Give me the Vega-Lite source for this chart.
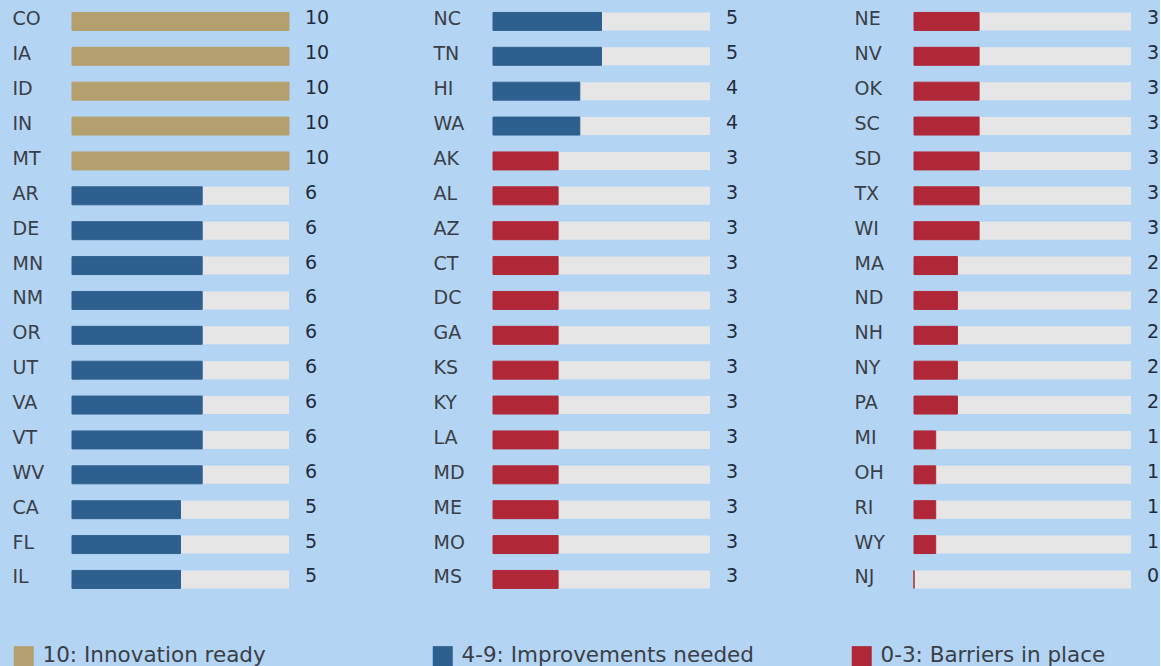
{
  "$schema": "https://vega.github.io/schema/vega-lite/v6.json",
  "background": "#b4d4f4",
  "padding": {"left": 12, "top": 4, "right": 0, "bottom": 0},
  "bounds": "flush",
  "spacing": 204,
  "config": {"view": {"stroke": null}, "font": "DejaVu Sans"},
  "datasets": {
    "states": [
      {"col": 1, "state": "CO", "score": 10, "tier": "10: Innovation ready"},
      {"col": 1, "state": "IA", "score": 10, "tier": "10: Innovation ready"},
      {"col": 1, "state": "ID", "score": 10, "tier": "10: Innovation ready"},
      {"col": 1, "state": "IN", "score": 10, "tier": "10: Innovation ready"},
      {"col": 1, "state": "MT", "score": 10, "tier": "10: Innovation ready"},
      {"col": 1, "state": "AR", "score": 6, "tier": "4-9: Improvements needed"},
      {"col": 1, "state": "DE", "score": 6, "tier": "4-9: Improvements needed"},
      {"col": 1, "state": "MN", "score": 6, "tier": "4-9: Improvements needed"},
      {"col": 1, "state": "NM", "score": 6, "tier": "4-9: Improvements needed"},
      {"col": 1, "state": "OR", "score": 6, "tier": "4-9: Improvements needed"},
      {"col": 1, "state": "UT", "score": 6, "tier": "4-9: Improvements needed"},
      {"col": 1, "state": "VA", "score": 6, "tier": "4-9: Improvements needed"},
      {"col": 1, "state": "VT", "score": 6, "tier": "4-9: Improvements needed"},
      {"col": 1, "state": "WV", "score": 6, "tier": "4-9: Improvements needed"},
      {"col": 1, "state": "CA", "score": 5, "tier": "4-9: Improvements needed"},
      {"col": 1, "state": "FL", "score": 5, "tier": "4-9: Improvements needed"},
      {"col": 1, "state": "IL", "score": 5, "tier": "4-9: Improvements needed"},
      {"col": 2, "state": "NC", "score": 5, "tier": "4-9: Improvements needed"},
      {"col": 2, "state": "TN", "score": 5, "tier": "4-9: Improvements needed"},
      {"col": 2, "state": "HI", "score": 4, "tier": "4-9: Improvements needed"},
      {"col": 2, "state": "WA", "score": 4, "tier": "4-9: Improvements needed"},
      {"col": 2, "state": "AK", "score": 3, "tier": "0-3: Barriers in place"},
      {"col": 2, "state": "AL", "score": 3, "tier": "0-3: Barriers in place"},
      {"col": 2, "state": "AZ", "score": 3, "tier": "0-3: Barriers in place"},
      {"col": 2, "state": "CT", "score": 3, "tier": "0-3: Barriers in place"},
      {"col": 2, "state": "DC", "score": 3, "tier": "0-3: Barriers in place"},
      {"col": 2, "state": "GA", "score": 3, "tier": "0-3: Barriers in place"},
      {"col": 2, "state": "KS", "score": 3, "tier": "0-3: Barriers in place"},
      {"col": 2, "state": "KY", "score": 3, "tier": "0-3: Barriers in place"},
      {"col": 2, "state": "LA", "score": 3, "tier": "0-3: Barriers in place"},
      {"col": 2, "state": "MD", "score": 3, "tier": "0-3: Barriers in place"},
      {"col": 2, "state": "ME", "score": 3, "tier": "0-3: Barriers in place"},
      {"col": 2, "state": "MO", "score": 3, "tier": "0-3: Barriers in place"},
      {"col": 2, "state": "MS", "score": 3, "tier": "0-3: Barriers in place"},
      {"col": 3, "state": "NE", "score": 3, "tier": "0-3: Barriers in place"},
      {"col": 3, "state": "NV", "score": 3, "tier": "0-3: Barriers in place"},
      {"col": 3, "state": "OK", "score": 3, "tier": "0-3: Barriers in place"},
      {"col": 3, "state": "SC", "score": 3, "tier": "0-3: Barriers in place"},
      {"col": 3, "state": "SD", "score": 3, "tier": "0-3: Barriers in place"},
      {"col": 3, "state": "TX", "score": 3, "tier": "0-3: Barriers in place"},
      {"col": 3, "state": "WI", "score": 3, "tier": "0-3: Barriers in place"},
      {"col": 3, "state": "MA", "score": 2, "tier": "0-3: Barriers in place"},
      {"col": 3, "state": "ND", "score": 2, "tier": "0-3: Barriers in place"},
      {"col": 3, "state": "NH", "score": 2, "tier": "0-3: Barriers in place"},
      {"col": 3, "state": "NY", "score": 2, "tier": "0-3: Barriers in place"},
      {"col": 3, "state": "PA", "score": 2, "tier": "0-3: Barriers in place"},
      {"col": 3, "state": "MI", "score": 1, "tier": "0-3: Barriers in place"},
      {"col": 3, "state": "OH", "score": 1, "tier": "0-3: Barriers in place"},
      {"col": 3, "state": "RI", "score": 1, "tier": "0-3: Barriers in place"},
      {"col": 3, "state": "WY", "score": 1, "tier": "0-3: Barriers in place"},
      {"col": 3, "state": "NJ", "score": 0, "tier": "0-3: Barriers in place"}
    ]
  },
  "resolve": {"scale": {"y": "independent", "color": "shared", "stroke": "shared"}},
  "hconcat": [
    {
      "data": {"name": "states"},
      "transform": [{"filter": "datum.col == 1"}],
      "width": 217,
      "height": {"step": 34.875},
      "encoding": {
        "y": {"field": "state", "type": "nominal", "sort": null,
          "scale": {"paddingInner": 0.484, "paddingOuter": 0.242},
          "axis": {"title": null, "domain": false, "ticks": false, "labelAlign": "left", "labelPadding": 60, "labelFontSize": 19, "labelColor": "#3a3f47", "labelBaseline": "middle", "labelOffset": -2}}
      },
      "layer": [
        {"mark": {"type": "bar", "color": "#e6e6e6"},
         "encoding": {"x": {"datum": 0, "type": "quantitative", "scale": {"domain": [0, 10]}, "axis": null}, "x2": {"datum": 10}}},
        {"mark": {"type": "bar", "strokeWidth": 1},
         "encoding": {
           "x": {"field": "score", "type": "quantitative", "scale": {"domain": [0, 10]}, "axis": null},
           "color": {"field": "tier", "type": "nominal",
             "scale": {"domain": ["10: Innovation ready", "4-9: Improvements needed", "0-3: Barriers in place"], "range": ["#b4a06e", "#2e608f", "#b02838"]},
             "legend": {"title": null, "orient": "none", "legendX": -59, "legendY": 641, "direction": "horizontal", "columns": 3, "gridAlign": "all", "columnPadding": 97, "symbolType": "square", "symbolSize": 400, "symbolStrokeWidth": 0, "labelFontSize": 21.5, "labelColor": "#3a3f47", "labelOffset": 8, "labelLimit": 500}},
           "stroke": {"field": "tier", "type": "nominal", "legend": null,
             "scale": {"domain": ["10: Innovation ready", "4-9: Improvements needed", "0-3: Barriers in place"], "range": ["#b4a06e", "#2e608f", "#b02838"]}}
         }},
        {"mark": {"type": "text", "align": "left", "baseline": "middle", "dx": 16, "dy": -3, "fontSize": 19, "color": "#1f2d3d"},
         "encoding": {"x": {"datum": 10, "type": "quantitative"}, "text": {"field": "score", "type": "quantitative"}}}
      ]
    },
    {
      "data": {"name": "states"},
      "transform": [{"filter": "datum.col == 2"}],
      "width": 217,
      "height": {"step": 34.875},
      "encoding": {
        "y": {"field": "state", "type": "nominal", "sort": null,
          "scale": {"paddingInner": 0.484, "paddingOuter": 0.242},
          "axis": {"title": null, "domain": false, "ticks": false, "labelAlign": "left", "labelPadding": 60, "labelFontSize": 19, "labelColor": "#3a3f47", "labelBaseline": "middle", "labelOffset": -2}}
      },
      "layer": [
        {"mark": {"type": "bar", "color": "#e6e6e6"},
         "encoding": {"x": {"datum": 0, "type": "quantitative", "scale": {"domain": [0, 10]}, "axis": null}, "x2": {"datum": 10}}},
        {"mark": {"type": "bar", "strokeWidth": 1},
         "encoding": {
           "x": {"field": "score", "type": "quantitative", "scale": {"domain": [0, 10]}, "axis": null},
           "color": {"field": "tier", "type": "nominal",
             "scale": {"domain": ["10: Innovation ready", "4-9: Improvements needed", "0-3: Barriers in place"], "range": ["#b4a06e", "#2e608f", "#b02838"]}},
           "stroke": {"field": "tier", "type": "nominal", "legend": null,
             "scale": {"domain": ["10: Innovation ready", "4-9: Improvements needed", "0-3: Barriers in place"], "range": ["#b4a06e", "#2e608f", "#b02838"]}}
         }},
        {"mark": {"type": "text", "align": "left", "baseline": "middle", "dx": 16, "dy": -3, "fontSize": 19, "color": "#1f2d3d"},
         "encoding": {"x": {"datum": 10, "type": "quantitative"}, "text": {"field": "score", "type": "quantitative"}}}
      ]
    },
    {
      "data": {"name": "states"},
      "transform": [{"filter": "datum.col == 3"}],
      "width": 217,
      "height": {"step": 34.875},
      "encoding": {
        "y": {"field": "state", "type": "nominal", "sort": null,
          "scale": {"paddingInner": 0.484, "paddingOuter": 0.242},
          "axis": {"title": null, "domain": false, "ticks": false, "labelAlign": "left", "labelPadding": 60, "labelFontSize": 19, "labelColor": "#3a3f47", "labelBaseline": "middle", "labelOffset": -2}}
      },
      "layer": [
        {"mark": {"type": "bar", "color": "#e6e6e6"},
         "encoding": {"x": {"datum": 0, "type": "quantitative", "scale": {"domain": [0, 10]}, "axis": null}, "x2": {"datum": 10}}},
        {"mark": {"type": "bar", "strokeWidth": 1},
         "encoding": {
           "x": {"field": "score", "type": "quantitative", "scale": {"domain": [0, 10]}, "axis": null},
           "color": {"field": "tier", "type": "nominal",
             "scale": {"domain": ["10: Innovation ready", "4-9: Improvements needed", "0-3: Barriers in place"], "range": ["#b4a06e", "#2e608f", "#b02838"]}},
           "stroke": {"field": "tier", "type": "nominal", "legend": null,
             "scale": {"domain": ["10: Innovation ready", "4-9: Improvements needed", "0-3: Barriers in place"], "range": ["#b4a06e", "#2e608f", "#b02838"]}}
         }},
        {"mark": {"type": "text", "align": "left", "baseline": "middle", "dx": 16, "dy": -3, "fontSize": 19, "color": "#1f2d3d"},
         "encoding": {"x": {"datum": 10, "type": "quantitative"}, "text": {"field": "score", "type": "quantitative"}}}
      ]
    }
  ]
}
